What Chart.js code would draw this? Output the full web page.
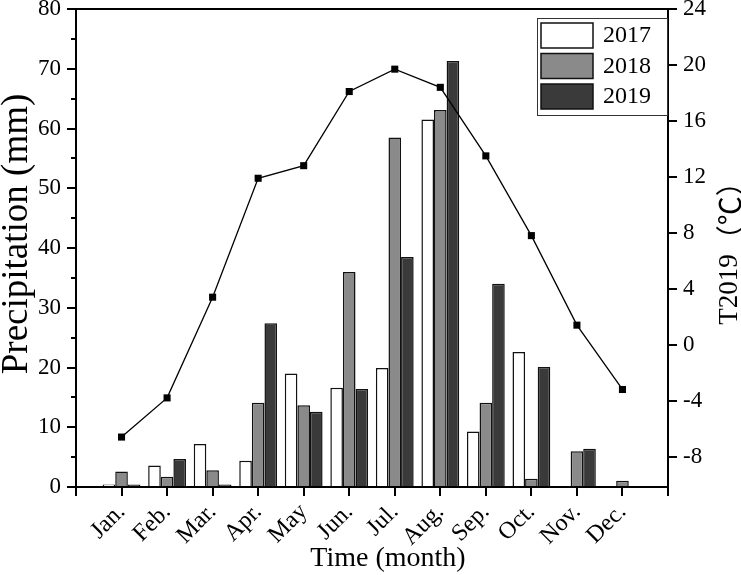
<!DOCTYPE html>
<html>
<head>
<meta charset="utf-8">
<script src="https://cdn.jsdelivr.net/npm/chart.js@4.4.1/dist/chart.umd.min.js"></script>
<style>
    html, body { margin: 0; padding: 0; background: #fff; }
    canvas { display: block; }
</style>
</head>
<body>
<canvas id="chart" width="741" height="575"></canvas>
<script>
// empty slots at both ends so the months sit one step in from the axes
const months = ["", "Jan.", "Feb.", "Mar.", "Apr.", "May", "Jun.", "Jul.", "Aug.", "Sep.", "Oct.", "Nov.", "Dec.", ""];
const rain2017 = [null, 0.4, 3.6, 7.2, 4.4, 19.0, 16.6, 19.9, 61.5, 9.3, 22.6, 0, 0, null];
const rain2018 = [null, 2.6, 1.7, 2.8, 14.1, 13.7, 36.0, 58.5, 63.1, 14.1, 1.4, 6.0, 1.05, null];
const rain2019 = [null, 0.4, 4.7, 0.4, 27.4, 12.6, 16.4, 38.5, 71.3, 34.0, 20.1, 6.4, 0, null];
const temp2019 = [null, -6.6, -3.8, 3.4, 11.9, 12.8, 18.1, 19.7, 18.4, 13.5, 7.8, 1.4, -3.2, null];

const FONT = '"Liberation Serif", "Times New Roman", serif';
const CJK = '"Noto Sans CJK SC", sans-serif';

// minor ticks on the left axis, box round the plot, legend and axis titles
const decorations = {
    id: "decorations",
    afterDraw(chart) {
        const ctx = chart.ctx;
        const area = chart.chartArea;
        const yScale = chart.scales.y;
        ctx.save();
        ctx.strokeStyle = "#000";
        ctx.lineWidth = 2;
        for (let v = 5; v < 80; v += 10) {
            const py = Math.round(yScale.getPixelForValue(v));
            ctx.beginPath();
            ctx.moveTo(area.left - 5, py);
            ctx.lineTo(area.left, py);
            ctx.stroke();
        }
        ctx.strokeRect(area.left, area.top, area.right - area.left, area.bottom - area.top);

        // legend
        const bx = area.right - 131, by = area.top + 9;
        ctx.lineWidth = 1;
        ctx.strokeStyle = "#333";
        ctx.fillStyle = "#fff";
        ctx.fillRect(bx, by, 130, 97);
        ctx.strokeRect(bx + 0.5, by + 0.5, 130, 97);
        const bars = chart.data.datasets.filter(d => d.type === "bar");
        ctx.font = "24px " + FONT;
        ctx.textBaseline = "middle";
        ctx.textAlign = "left";
        bars.forEach((d, i) => {
            const sy = by + 5 + i * 30.5;
            ctx.fillStyle = d.backgroundColor;
            ctx.fillRect(bx + 4, sy, 52, 25);
            ctx.lineWidth = 1.5;
            ctx.strokeStyle = "#111";
            ctx.strokeRect(bx + 4, sy, 52, 25);
            ctx.fillStyle = "#000";
            ctx.fillText(d.label, bx + 66, sy + 13);
        });

        // axis titles
        ctx.fillStyle = "#000";
        ctx.textAlign = "center";
        ctx.textBaseline = "middle";
        ctx.font = "37px " + FONT;
        ctx.save();
        ctx.translate(17, 234);
        ctx.rotate(-Math.PI / 2);
        ctx.fillText("Precipitation (mm)", 0, 0);
        ctx.restore();

        // right title: latin part in the serif, fullwidth brackets in the CJK font
        const partA = "T2019", partB = "（℃）";
        const fontA = "27px " + FONT, fontB = "29px " + CJK;
        ctx.font = fontA;
        const wA = ctx.measureText(partA).width;
        ctx.font = fontB;
        const wB = ctx.measureText(partB).width;
        ctx.save();
        ctx.translate(730, 246);
        ctx.rotate(-Math.PI / 2);
        ctx.textAlign = "left";
        ctx.font = fontA;
        ctx.fillText(partA, -(wA + wB) / 2, 0);
        ctx.font = fontB;
        ctx.fillText(partB, -(wA + wB) / 2 + wA, 0);
        ctx.restore();

        ctx.textAlign = "center";
        ctx.font = "28px " + FONT;
        ctx.fillText("Time (month)", 388, 559);
        ctx.restore();
    },
};

function barSet(label, values, color) {
    return {
        type: "bar",
        label: label,
        data: values,
        backgroundColor: color,
        borderColor: "#111",
        borderWidth: 1.5,
        yAxisID: "y",
        order: 1,
        categoryPercentage: 0.83,
        barPercentage: 1,
    };
}

function fixSize(prop, size) {
    return function (scale) {
        scale[prop] = size;
        scale.paddingTop = 0;
        scale.paddingBottom = 0;
        scale.paddingLeft = 0;
        scale.paddingRight = 0;
    };
}

const tickFont = { family: FONT, size: 23 };

new Chart(document.getElementById("chart"), {
    data: {
        labels: months,
        datasets: [
            {
                type: "line",
                label: "T2019",
                data: temp2019,
                yAxisID: "y1",
                order: 0,
                borderColor: "#000",
                borderWidth: 1.3,
                pointStyle: "rect",
                pointRadius: 5,
                pointBackgroundColor: "#000",
                pointBorderColor: "#000",
                pointBorderWidth: 0,
                tension: 0,
            },
            barSet("2017", rain2017, "#ffffff"),
            barSet("2018", rain2018, "#8a8a8a"),
            barSet("2019", rain2019, "#3a3a3a"),
        ],
    },
    options: {
        responsive: false,
        animation: false,
        devicePixelRatio: 1,
        layout: {
            padding: { top: 9, left: 0, right: 0, bottom: 0 },
        },
        plugins: {
            legend: { display: false },
            tooltip: { enabled: false },
        },
        scales: {
            x: {
                type: "category",
                offset: false,
                afterFit: fixSize("height", 88),
                grid: {
                    offset: false,
                    drawOnChartArea: false,
                    color: "#000",
                    lineWidth: 2,
                    tickLength: 9,
                },
                border: { color: "#000", width: 2 },
                ticks: {
                    autoSkip: false,
                    minRotation: 45,
                    maxRotation: 45,
                    padding: 2,
                    color: "#000",
                    font: { family: FONT, size: 24 },
                },
            },
            y: {
                position: "left",
                min: 0,
                max: 80,
                afterFit: fixSize("width", 76),
                grid: {
                    drawOnChartArea: false,
                    color: "#000",
                    lineWidth: 2,
                    tickLength: 9,
                },
                border: { color: "#000", width: 2 },
                ticks: {
                    stepSize: 10,
                    padding: 6,
                    color: "#000",
                    font: tickFont,
                },
            },
            y1: {
                position: "right",
                min: -10.17,
                max: 24,
                afterFit: fixSize("width", 73),
                grid: {
                    drawOnChartArea: false,
                    color: "#000",
                    lineWidth: 2,
                    tickLength: 9,
                },
                border: { color: "#000", width: 2 },
                ticks: {
                    stepSize: 4,
                    includeBounds: false,
                    padding: 6,
                    color: "#000",
                    font: tickFont,
                },
            },
        },
    },
    plugins: [decorations],
});
</script>
</body>
</html>
